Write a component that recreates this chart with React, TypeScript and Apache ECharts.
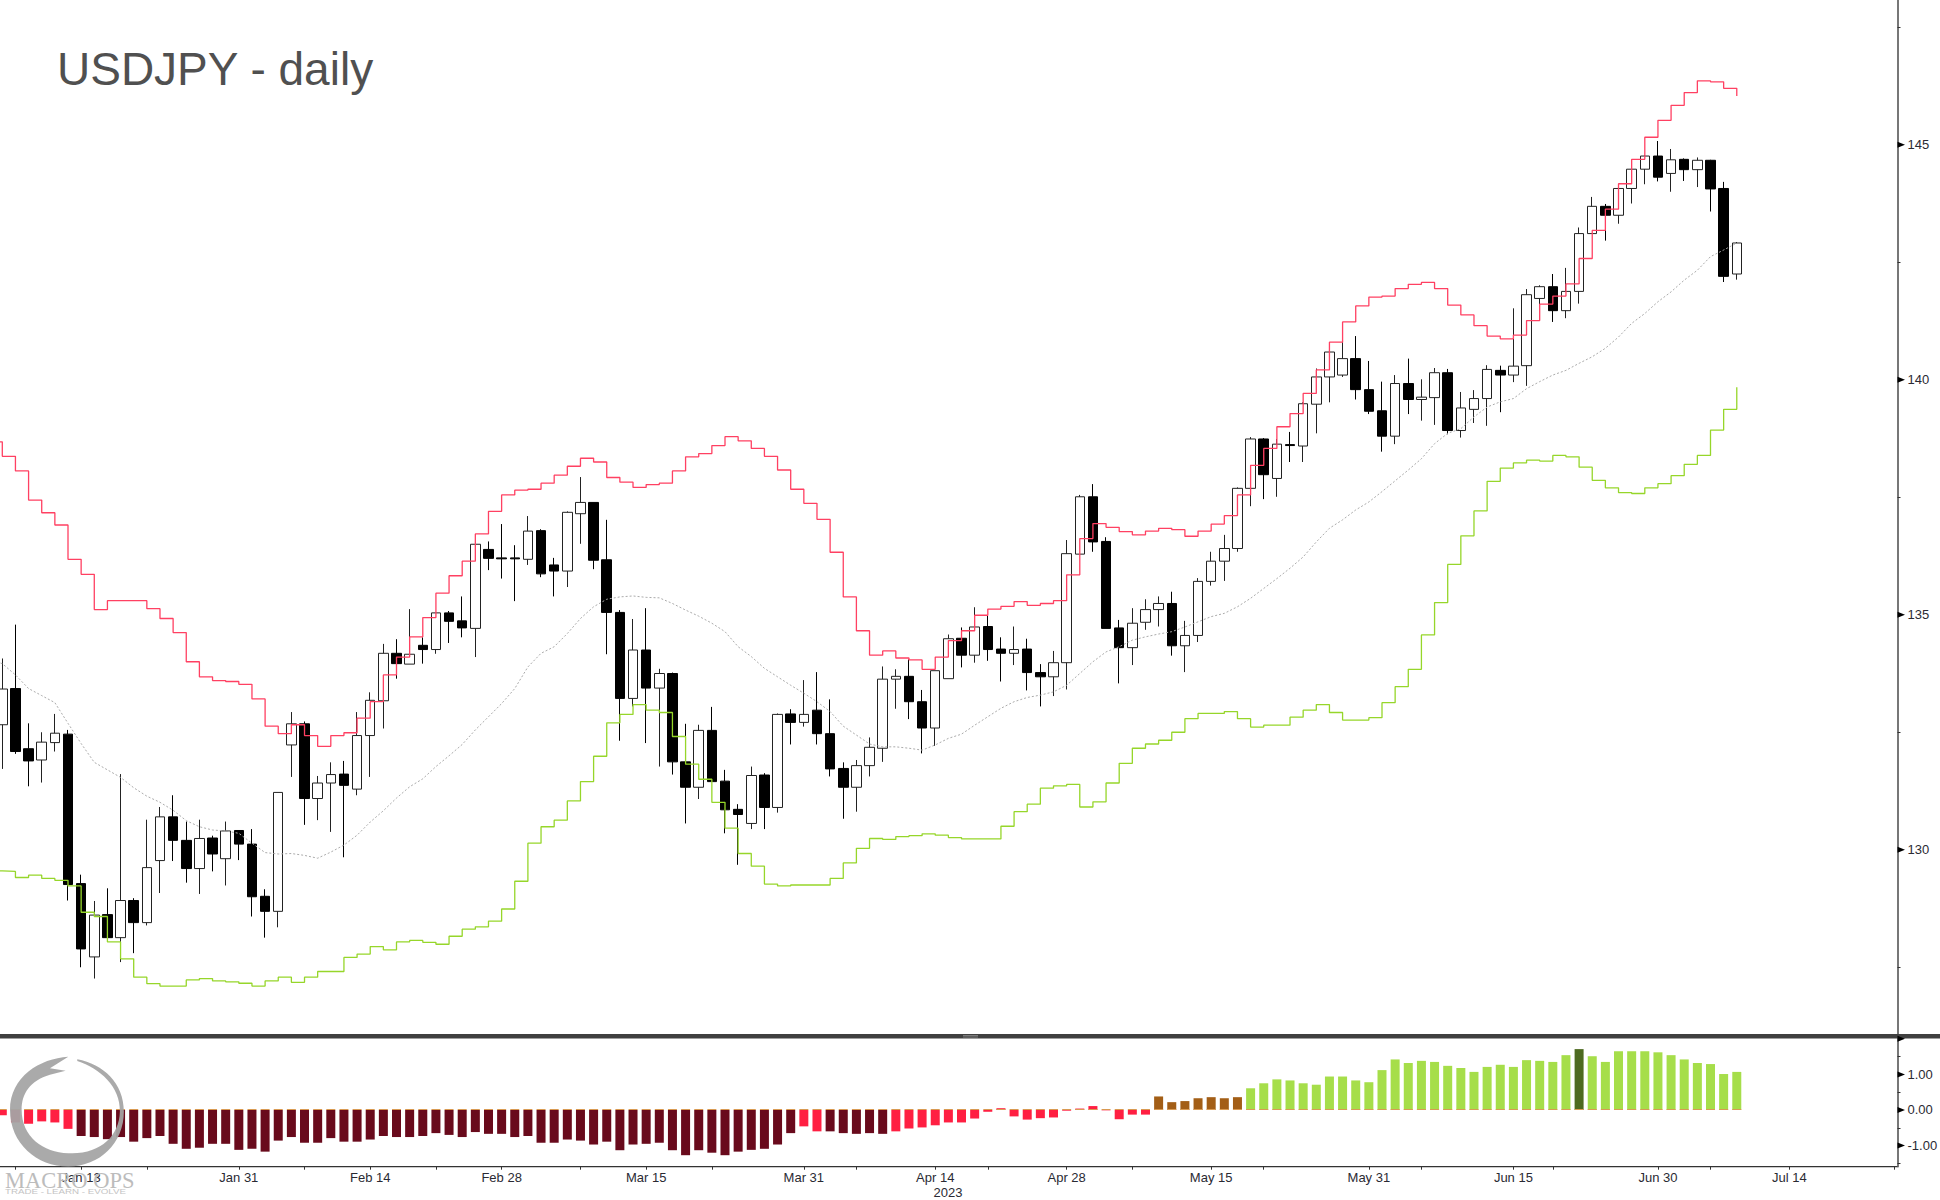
import React, { useEffect, useRef } from "react";
import * as echarts from "echarts";

// Weekday sessions. The first one only carries the band levels coming in from the left edge.
const categories = [
  "Jan 4","Jan 5","Jan 6","Jan 9","Jan 10","Jan 11","Jan 12","Jan 13","Jan 16","Jan 17","Jan 18","Jan 19","Jan 20",
  "Jan 23","Jan 24","Jan 25","Jan 26","Jan 27","Jan 30","Jan 31","Feb 1","Feb 2","Feb 3","Feb 6","Feb 7","Feb 8","Feb 9","Feb 10",
  "Feb 13","Feb 14","Feb 15","Feb 16","Feb 17","Feb 20","Feb 21","Feb 22","Feb 23","Feb 24","Feb 27","Feb 28","Mar 1","Mar 2","Mar 3",
  "Mar 6","Mar 7","Mar 8","Mar 9","Mar 10","Mar 13","Mar 14","Mar 15","Mar 16","Mar 17","Mar 20","Mar 21","Mar 22","Mar 23","Mar 24",
  "Mar 27","Mar 28","Mar 29","Mar 30","Mar 31","Apr 3","Apr 4","Apr 5","Apr 6","Apr 7","Apr 10","Apr 11","Apr 12","Apr 13","Apr 14",
  "Apr 17","Apr 18","Apr 19","Apr 20","Apr 21","Apr 24","Apr 25","Apr 26","Apr 27","Apr 28","May 1","May 2","May 3","May 4","May 5",
  "May 8","May 9","May 10","May 11","May 12","May 15","May 16","May 17","May 18","May 19","May 22","May 23","May 24","May 25","May 26",
  "May 29","May 30","May 31","Jun 1","Jun 2","Jun 5","Jun 6","Jun 7","Jun 8","Jun 9","Jun 12","Jun 13","Jun 14","Jun 15","Jun 16",
  "Jun 19","Jun 20","Jun 21","Jun 22","Jun 23","Jun 26","Jun 27","Jun 28","Jun 29","Jun 30","Jul 3","Jul 4","Jul 5","Jul 6","Jul 7",
  "Jul 10","Jul 11","Jul 12","Jul 13","Jul 14","Jul 17","Jul 18","Jul 19","Jul 20","Jul 21","Jul 24","Jul 25","Jul 26",
];

const labelledDates = ["Jan 13","Jan 31","Feb 14","Feb 28","Mar 15","Mar 31","Apr 14","Apr 28","May 15","May 31","Jun 15","Jun 30","Jul 14"];
const unlabelledTickDates = ["Jan 6","Jan 20","Feb 7","Feb 21","Mar 8","Mar 22","Apr 6","Apr 20","May 5","May 19","Jun 6","Jun 20","Jul 6","Jul 26"];

// [open, close, low, high]
const candles = [
  [132.66,133.42,131.72,134.07],[133.43,132.09,132.04,134.79],[132.15,131.89,131.35,132.69],[131.91,132.29,131.43,132.50],
  [132.28,132.48,132.09,132.89],[132.46,129.26,128.92,132.55],[129.28,127.89,127.50,129.47],[127.72,128.61,127.26,128.91],
  [128.62,128.13,128.13,129.18],[128.13,128.92,127.61,131.61],[128.92,128.45,127.80,128.97],[128.45,129.62,128.39,130.64],
  [129.77,130.70,129.08,130.91],[130.70,130.20,129.76,131.16],[130.20,129.60,129.30,130.60],[129.60,130.24,129.06,130.64],
  [130.25,129.91,129.54,130.30],[129.81,130.40,129.24,130.60],[130.41,130.12,129.78,130.41],[130.12,129.00,128.58,130.44],
  [129.01,128.69,128.13,129.16],[128.69,131.22,128.35,131.22],[132.23,132.68,131.55,132.93],[132.68,131.09,130.53,132.73],
  [131.09,131.42,130.63,131.57],[131.42,131.60,130.38,131.86],[131.61,131.37,129.84,131.89],[131.29,132.43,131.16,132.93],
  [132.43,133.18,131.55,133.35],[133.17,134.18,132.58,134.38],[134.18,133.96,133.64,134.48],[133.95,134.16,133.95,135.12],
  [134.35,134.26,133.96,134.52],[134.26,135.04,134.17,135.04],[135.04,134.86,134.40,135.08],[134.87,134.72,134.52,135.39],
  [134.71,136.50,134.10,136.52],[136.39,136.20,135.95,136.56],[136.21,136.19,135.77,136.93],[136.21,136.19,135.29,136.48],
  [136.18,136.78,136.06,137.10],[136.79,135.87,135.80,136.82],[136.06,135.93,135.39,136.21],[135.93,137.18,135.59,137.20],
  [137.15,137.39,136.51,137.93],[137.39,136.16,135.97,137.39],[136.17,135.05,134.16,137.02],[135.05,133.22,132.32,135.10],
  [133.22,134.25,133.05,134.91],[134.25,133.44,132.27,135.14],[133.44,133.75,131.77,133.85],[133.75,131.87,131.60,133.77],
  [131.87,131.33,130.56,132.68],[131.33,132.54,131.08,132.66],[132.54,131.45,131.45,133.04],[131.46,130.85,130.35,131.70],
  [130.86,130.75,129.68,130.97],[130.56,131.58,130.44,131.77],[131.59,130.90,130.44,131.63],[130.90,132.88,130.79,132.90],
  [132.89,132.71,132.24,132.99],[132.71,132.88,132.62,133.61],[132.97,132.47,132.24,133.78],[132.47,131.72,131.56,133.20],
  [131.73,131.33,130.66,131.86],[131.33,131.79,130.81,131.91],[131.79,132.18,131.56,132.39],[132.16,133.63,131.87,133.90],
  [133.63,133.69,133.00,133.84],[133.69,133.15,132.78,134.05],[133.15,132.59,132.05,133.40],[132.59,133.81,132.21,133.81],
  [133.64,134.49,133.64,134.58],[134.50,134.14,133.88,134.73],[134.14,134.74,133.98,135.16],[134.75,134.26,134.02,134.98],
  [134.27,134.18,133.58,134.52],[134.18,134.26,133.93,134.75],[134.27,133.77,133.39,134.49],[133.77,133.68,133.05,133.95],
  [133.68,133.98,133.27,134.23],[133.98,136.30,133.41,136.59],[136.29,137.51,136.29,137.55],[137.51,136.55,136.34,137.78],
  [136.56,134.71,134.71,136.65],[134.72,134.30,133.54,134.89],[134.30,134.82,133.93,135.14],[134.84,135.11,134.68,135.33],
  [135.11,135.24,134.75,135.39],[135.24,134.34,134.13,135.49],[134.34,134.56,133.78,134.87],[134.56,135.71,134.42,135.78],
  [135.71,136.14,135.62,136.34],[136.14,136.41,135.72,136.70],[136.41,137.69,136.34,137.71],[137.69,138.74,137.31,138.78],
  [138.74,137.98,137.46,138.76],[137.90,138.63,137.51,138.74],[138.62,138.60,138.25,138.89],[138.59,139.49,138.25,139.52],
  [139.48,140.06,138.86,140.24],[140.06,140.59,139.52,140.61],[140.10,140.45,140.06,140.80],[140.45,139.79,139.58,140.93],
  [139.79,139.33,139.27,140.40],[139.34,138.80,138.47,139.96],[138.80,139.92,138.63,140.10],[139.92,139.58,139.27,140.45],
  [139.58,139.63,139.13,140.01],[139.62,140.15,139.04,140.25],[140.15,138.92,138.84,140.23],[138.92,139.40,138.77,139.74],
  [139.37,139.60,139.08,139.78],[139.60,140.22,139.02,140.31],[140.20,140.10,139.31,140.30],[140.10,140.29,139.95,141.52],
  [140.30,141.81,139.87,141.93],[141.73,141.98,141.59,142.01],[141.98,141.47,141.23,142.25],[141.47,141.88,141.31,142.38],
  [141.88,143.11,141.62,143.24],[143.11,143.69,143.11,143.89],[143.69,143.50,142.96,143.74],[143.50,144.07,143.32,144.09],
  [144.07,144.48,143.75,144.50],[144.48,144.76,144.16,144.78],[144.76,144.31,144.22,145.08],[144.39,144.68,144.00,144.91],
  [144.69,144.47,144.23,144.71],[144.47,144.67,144.10,144.73],[144.67,144.06,143.58,144.68],[144.07,142.20,142.08,144.21],
  [142.25,142.91,142.13,142.93],
];

const upperBand = [
  138.68,
  138.37,138.06,137.44,137.17,136.91,136.18,135.86,135.11,135.30,135.30,
  135.30,135.13,134.92,134.62,134.00,133.68,133.60,133.58,133.52,133.21,
  132.63,132.47,132.66,132.43,132.20,132.43,132.49,132.80,133.15,133.72,
  134.10,134.53,134.94,135.46,135.83,136.14,136.72,137.20,137.55,137.65,
  137.67,137.80,137.97,138.16,138.33,138.25,137.92,137.82,137.71,137.77,
  137.80,138.06,138.36,138.43,138.60,138.79,138.70,138.54,138.37,138.08,
  137.67,137.37,137.03,136.33,135.38,134.66,134.14,134.23,134.08,134.04,
  133.84,134.10,134.45,134.66,134.99,135.12,135.18,135.28,135.20,135.24,
  135.30,135.85,136.62,136.94,136.86,136.77,136.70,136.78,136.84,136.81,
  136.67,136.78,136.93,137.11,137.55,138.18,138.54,139.00,139.28,139.71,
  140.21,140.80,141.23,141.57,141.76,141.78,141.94,142.03,142.07,141.94,
  141.59,141.38,141.15,140.93,140.87,140.95,141.26,141.61,141.78,142.04,
  142.58,143.18,143.63,144.17,144.69,145.16,145.52,145.84,146.11,146.36,
  146.34,146.20,146.04,
];

const lowerBand = [
  129.55,
  129.54,129.41,129.46,129.39,129.35,129.23,128.67,128.58,128.04,127.68,
  127.29,127.15,127.10,127.10,127.23,127.26,127.21,127.19,127.16,127.10,
  127.21,127.29,127.18,127.29,127.41,127.41,127.71,127.78,127.94,127.87,
  128.04,128.07,128.03,127.99,128.16,128.31,128.36,128.48,128.74,129.33,
  130.14,130.49,130.63,131.04,131.45,131.99,132.70,132.88,133.09,132.97,
  132.92,132.41,131.82,131.50,131.01,130.46,129.92,129.65,129.27,129.23,
  129.25,129.25,129.25,129.39,129.72,130.03,130.24,130.22,130.28,130.30,
  130.34,130.31,130.26,130.23,130.23,130.23,130.50,130.81,130.97,131.31,
  131.36,131.39,130.91,131.02,131.42,131.84,132.16,132.25,132.33,132.50,
  132.79,132.90,132.90,132.94,132.79,132.61,132.65,132.65,132.82,132.97,
  133.09,132.92,132.76,132.76,132.81,133.13,133.47,133.84,134.57,135.26,
  136.07,136.68,137.21,137.84,138.12,138.23,138.29,138.27,138.39,138.36,
  138.14,137.86,137.70,137.60,137.58,137.70,137.79,137.96,138.20,138.39,
  138.93,139.37,139.84,
];

const midBand = [
  134.05,
  133.96,133.72,133.43,133.28,133.13,132.69,132.26,131.86,131.70,131.54,
  131.32,131.14,131.01,130.84,130.62,130.49,130.42,130.40,130.35,130.14,
  129.94,129.91,129.92,129.88,129.82,129.95,130.10,130.31,130.59,130.83,
  131.10,131.34,131.51,131.77,132.00,132.24,132.55,132.83,133.11,133.43,
  133.89,134.18,134.32,134.60,134.92,135.17,135.33,135.38,135.40,135.37,
  135.36,135.24,135.10,134.97,134.82,134.64,134.32,134.11,133.86,133.68,
  133.50,133.33,133.15,132.94,132.63,132.44,132.25,132.19,132.19,132.16,
  132.12,132.23,132.37,132.46,132.65,132.83,133.01,133.15,133.24,133.29,
  133.36,133.50,133.75,134.00,134.21,134.32,134.46,134.53,134.59,134.64,
  134.74,134.85,134.96,135.03,135.17,135.35,135.56,135.77,135.99,136.23,
  136.55,136.84,137.02,137.23,137.40,137.62,137.85,138.08,138.32,138.64,
  138.86,138.96,139.21,139.42,139.53,139.60,139.81,139.96,140.10,140.20,
  140.35,140.49,140.67,140.91,141.20,141.41,141.66,141.87,142.12,142.33,
  142.62,142.76,142.91,
];

const histogramValues = [
  -0.15,-0.35,-0.39,-0.32,-0.35,-0.53,-0.73,-0.76,-0.82,-0.76,
  -0.89,-0.79,-0.73,-0.95,-1.09,-1.06,-0.95,-0.95,-1.12,-1.09,
  -1.17,-0.86,-0.76,-0.92,-0.92,-0.79,-0.89,-0.89,-0.83,-0.73,
  -0.76,-0.76,-0.73,-0.65,-0.70,-0.76,-0.62,-0.67,-0.67,-0.76,
  -0.73,-0.92,-0.92,-0.83,-0.86,-0.97,-0.89,-1.13,-0.97,-0.95,
  -0.92,-1.13,-1.27,-1.13,-1.20,-1.27,-1.17,-1.12,-1.09,-0.97,
  -0.65,-0.46,-0.60,-0.60,-0.65,-0.67,-0.65,-0.67,-0.60,-0.52,
  -0.49,-0.43,-0.35,-0.35,-0.24,-0.05,0.05,-0.18,-0.27,-0.23,
  -0.21,-0.02,0.04,0.11,-0.01,-0.26,-0.13,-0.13,0.38,0.22,
  0.25,0.33,0.36,0.33,0.36,0.61,0.75,0.86,0.83,0.75,
  0.71,0.94,0.94,0.83,0.78,1.12,1.42,1.32,1.38,1.35,
  1.24,1.18,1.07,1.21,1.27,1.21,1.40,1.38,1.35,1.54,
  1.71,1.51,1.35,1.65,1.65,1.65,1.62,1.54,1.42,1.32,
  1.29,1.01,1.07,
];

// Colour state of each histogram stretch: [first session, last session, colour]
const histogramStates: [number, number, string][] = [
  [0, 5, "#ff1f42"],
  [6, 60, "#690a1c"],
  [61, 62, "#ff1f42"],
  [63, 67, "#690a1c"],
  [68, 87, "#ff1f42"],
  [88, 94, "#a35e16"],
  [95, 119, "#a6de4a"],
  [120, 120, "#4d6a20"],
  [121, 132, "#a6de4a"],
];

const priceTicks = [145, 140, 135, 130];
const priceMinorTicks = [147.5, 142.5, 137.5, 132.5, 127.5];
const histogramLabelTicks = [1, 0, -1];
const histogramArrowTicks = [2, 1, 0, -1];
const histogramMinorTicks = [1.5, 0.5, -0.5, -1.5];

const TITLE = "USDJPY - daily";
const YEAR_LABEL = "2023";

const FONT = "'Liberation Sans', Arial, sans-serif";
const AXIS_INSET = 3.53;

const logoPath =
  "M205,50 C120,55 30,110 30,210 C30,310 110,380 205,380 C300,380 372,310 372,215 C372,130 310,72 232,58 " +
  "L232,63 C300,85 362,140 360,215 C358,290 300,345 205,340 C130,338 65,290 65,210 C65,160 90,122 150,104 " +
  "L197,92 L150,85 Z";
echarts.graphic.registerShape("macroLogo", echarts.graphic.extendPath(logoPath, {}) as any);

function arrowSeries(name: string, axisIndex: number, values: number[]) {
  return {
    type: "custom",
    name,
    xAxisIndex: axisIndex,
    yAxisIndex: axisIndex,
    silent: true,
    clip: false,
    z: 6,
    data: values.map((v) => [0, v]),
    renderItem: (params: any, api: any) => {
      const y = api.coord([0, api.value(1)])[1];
      const x = params.coordSys.x + params.coordSys.width - AXIS_INSET;
      return {
        type: "polygon",
        shape: { points: [[x, y - 3], [x + 7.5, y], [x, y + 3]] },
        style: { fill: "#000" },
      };
    },
  };
}

function yAxisBase(gridIndex: number, min: number, max: number, labels: number[], minors: number[], format: (v: number) => string) {
  return {
    type: "value",
    gridIndex,
    position: "right",
    offset: -AXIS_INSET,
    min,
    max,
    splitLine: { show: false },
    axisLine: { show: true, onZero: false, lineStyle: { color: "#555", width: 1.6 } },
    axisTick: { show: true, inside: false, length: 3, customValues: minors, lineStyle: { color: "#333", width: 1 } },
    axisLabel: {
      show: true,
      customValues: labels,
      formatter: (v: number) => format(v),
      margin: 10,
      padding: [2, 0, 0, 0],
      color: "#2a2a33",
      fontFamily: FONT,
      fontSize: 13,
      showMinLabel: true,
      showMaxLabel: true,
    },
  };
}

export default function App() {
  const ref = useRef<HTMLDivElement>(null);

  useEffect(() => {
    if (!ref.current) return;
    const chart = echarts.init(ref.current, undefined, { renderer: "svg" });

    const gridLeft = -17.41;
    const gridWidth = categories.length * 13.14;

    const histogramColor = (session: number) => {
      const s = histogramStates.find(([a, b]) => session >= a && session <= b);
      return s ? s[2] : "#a6de4a";
    };

    chart.setOption({
      animation: false,
      backgroundColor: "#fff",
      title: {
        text: TITLE,
        left: 52,
        top: 41,
        textStyle: { fontFamily: FONT, fontSize: 46, fontWeight: "normal", color: "#505050" },
      },
      grid: [
        { left: gridLeft, top: 0, width: gridWidth, height: 1034, outerBoundsMode: "none", containLabel: false },
        { left: gridLeft, top: 1038, width: gridWidth, height: 128.7, outerBoundsMode: "none", containLabel: false },
      ],
      xAxis: [
        {
          type: "category",
          gridIndex: 0,
          data: categories,
          boundaryGap: true,
          axisLine: { show: false, onZero: false },
          axisTick: { show: false },
          axisLabel: { show: false },
          splitLine: { show: false },
        },
        {
          type: "category",
          gridIndex: 1,
          data: categories,
          boundaryGap: true,
          axisLine: { show: false, onZero: false },
          axisTick: {
            show: true,
            alignWithLabel: true,
            length: 3,
            interval: (_: number, v: string) => labelledDates.includes(v) || unlabelledTickDates.includes(v),
            lineStyle: { color: "#333", width: 1 },
          },
          axisLabel: {
            show: true,
            interval: (_: number, v: string) => labelledDates.includes(v),
            margin: 4,
            color: "#2a2a33",
            fontFamily: FONT,
            fontSize: 13,
          },
          splitLine: { show: false },
        },
      ],
      yAxis: [
        yAxisBase(0, 126.08, 148.08, priceTicks, priceMinorTicks, (v) => String(v)),
        yAxisBase(1, -1.593, 2.022, histogramLabelTicks, histogramMinorTicks, (v) => v.toFixed(2)),
      ],
      series: [
        {
          type: "candlestick",
          name: "USDJPY",
          xAxisIndex: 0,
          yAxisIndex: 0,
          barWidth: 10,
          silent: true,
          data: [["-", "-", "-", "-"], ...candles],
          itemStyle: {
            color: "#ffffff",
            color0: "#000000",
            borderColor: "#222222",
            borderColor0: "#000000",
            borderColorDoji: "#000000",
            borderWidth: 1,
          },
        },
        {
          type: "line",
          name: "Mid band",
          xAxisIndex: 0,
          yAxisIndex: 0,
          data: midBand,
          showSymbol: false,
          silent: true,
          lineStyle: { color: "#ababab", width: 1, type: [2, 2] },
        },
        {
          type: "line",
          name: "Upper band",
          xAxisIndex: 0,
          yAxisIndex: 0,
          step: "end",
          data: upperBand,
          showSymbol: false,
          silent: true,
          lineStyle: { color: "#ff4062", width: 1.3 },
        },
        {
          type: "line",
          name: "Lower band",
          xAxisIndex: 0,
          yAxisIndex: 0,
          step: "end",
          data: lowerBand,
          showSymbol: false,
          silent: true,
          lineStyle: { color: "#96d62a", width: 1.3 },
        },
        {
          type: "bar",
          name: "Histogram",
          xAxisIndex: 1,
          yAxisIndex: 1,
          barWidth: 9,
          silent: true,
          data: ["-", ...histogramValues],
          itemStyle: { color: (p: any) => histogramColor(p.dataIndex - 1) },
        },
        {
          type: "custom",
          name: "Zero marks",
          xAxisIndex: 1,
          yAxisIndex: 1,
          silent: true,
          z: 4,
          data: histogramValues.map((v, i) => [i + 1, v]),
          renderItem: (_: any, api: any) => {
            const p = api.coord([api.value(0), 0]);
            return {
              type: "rect",
              shape: { x: p[0] - 4.5, y: p[1] - 1, width: 9, height: 1 },
              style: { fill: "#d99a52" },
            };
          },
        },
        arrowSeries("Price axis marks", 0, priceTicks),
        arrowSeries("Histogram axis marks", 1, histogramArrowTicks),
      ],
      graphic: [
        { type: "rect", silent: true, z: 5, shape: { x: 0, y: 1034, width: 1940, height: 4.4 }, style: { fill: "#404040" } },
        { type: "rect", silent: true, z: 6, shape: { x: 963, y: 1035, width: 15, height: 0.8 }, style: { fill: "#8a8a8a" } },
        { type: "rect", silent: true, z: 6, shape: { x: 963, y: 1036.6, width: 15, height: 0.8 }, style: { fill: "#8a8a8a" } },
        { type: "rect", silent: true, z: 5, shape: { x: 0, y: 1166, width: 1897.5, height: 1.3 }, style: { fill: "#333" } },
        {
          type: "text",
          silent: true,
          x: 948,
          y: 1192,
          style: { text: YEAR_LABEL, fill: "#2a2a33", font: `13px ${FONT}`, textAlign: "center", textVerticalAlign: "middle" },
        },
        {
          type: "macroLogo",
          silent: true,
          z: 8,
          x: 0,
          y: 1040,
          scaleX: 1 / 3,
          scaleY: 1 / 3,
          style: { fill: "rgba(165,165,165,0.94)" },
        },
        {
          type: "text",
          silent: true,
          z: 3,
          x: 5,
          y: 1180,
          style: {
            text: "MACRO OPS",
            fill: "#bcbcbc",
            font: "22.5px 'Liberation Serif', serif",
            textAlign: "left",
            textVerticalAlign: "middle",
          },
        },
        {
          type: "text",
          silent: true,
          z: 3,
          x: 5,
          y: 1192,
          scaleX: 1.5,
          style: {
            text: "TRADE - LEARN - EVOLVE",
            fill: "#c4c4c4",
            font: `6.5px ${FONT}`,
            textAlign: "left",
            textVerticalAlign: "middle",
          },
        },
      ],
    });

    return () => chart.dispose();
  }, []);

  return <div ref={ref} style={{ position: "absolute", left: 0, top: 0, width: 1940, height: 1200, overflow: "hidden", background: "#fff" }} />;
}
